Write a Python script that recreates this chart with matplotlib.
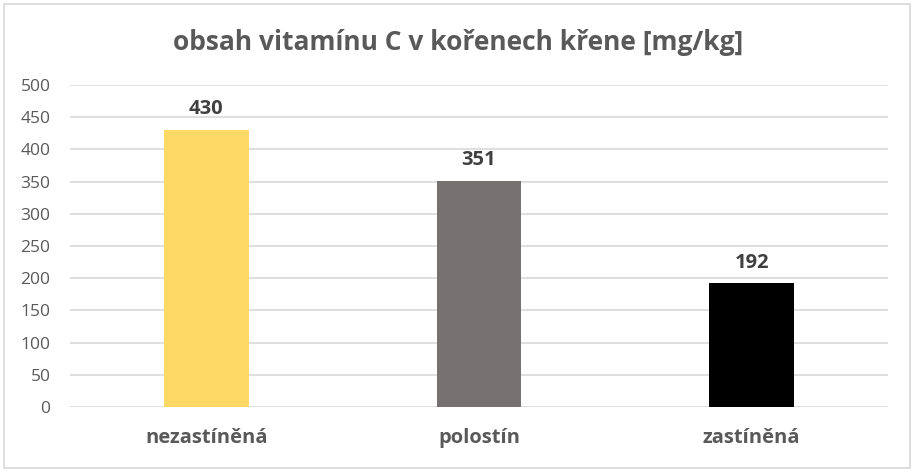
import matplotlib
matplotlib.use("Agg")
import matplotlib.pyplot as plt
from matplotlib.patches import Rectangle

categories = ["nezastíněná", "polostín", "zastíněná"]
values = [430, 351, 192]
colors = ["#FFD966", "#767171", "#000000"]
yticks = [0, 50, 100, 150, 200, 250, 300, 350, 400, 450, 500]
title = "obsah vitamínu C v kořenech křene [mg/kg]"

plt.rcParams['font.family'] = ['Open Sans', 'DejaVu Sans']

fig = plt.figure(figsize=(9.14, 4.72), dpi=100)
ax = fig.add_axes([70/914, 1-407/472, (888-70)/914, (407-85)/472])

x = range(len(categories))
bars = ax.bar(x, values, width=0.31, color=colors, zorder=3)
for xi, v in zip(x, values):
    ax.annotate(str(v), (xi, v), xytext=(0, 15), textcoords="offset points",
                ha="center", va="center", fontsize=14.5,
                fontweight="bold", color="#404040")

ax.set_xlim(-0.5, len(categories) - 0.5)
ax.set_ylim(0, 500)
ax.set_yticks(yticks)
ax.set_yticklabels([str(t) for t in yticks], fontsize=12.5, color="#595959")
ax.set_xticks(list(x))
ax.set_xticklabels(categories, fontsize=14.5, fontweight="bold", color="#595959")
ax.tick_params(axis="both", length=0)
ax.tick_params(axis="y", pad=14)
ax.tick_params(axis="x", pad=15)
ax.grid(axis="y", color="#D9D9D9", linewidth=1.2, zorder=0)
for s in ax.spines.values():
    s.set_visible(False)
ax.set_facecolor("white")

fig.text(458/914, 1-42/472, title, ha="center", va="center", fontsize=19,
         fontweight="bold", color="#595959")

fig.patches.append(Rectangle((4/914, 4/472), 1-8/914, 1-8/472, transform=fig.transFigure,
                             fill=False, edgecolor="#D9D9D9", linewidth=1.2))

fig.savefig("out.png", dpi=100)
